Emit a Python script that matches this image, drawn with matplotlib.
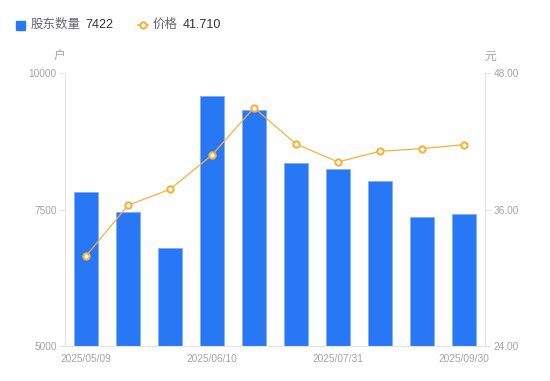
import matplotlib
matplotlib.use('Agg')
import matplotlib.pyplot as plt
from matplotlib.lines import Line2D

plt.rcParams['font.family'] = ['Liberation Sans', 'Noto Sans CJK SC', 'DejaVu Sans']

dates = ['2025/05/09', '2025/05/20', '2025/05/30', '2025/06/10', '2025/06/20',
         '2025/06/30', '2025/07/31', '2025/08/20', '2025/08/31', '2025/09/30']
holders = [7815, 7460, 6795, 9584, 9317, 8346, 8236, 8016, 7363, 7422]
price = [31.91, 36.37, 37.78, 40.79, 44.95, 41.76, 40.18, 41.12, 41.35, 41.71]
left_ticks = [5000, 7500, 10000]
right_ticks = [24.0, 36.0, 48.0]

blue = '#2878F5'
orange = '#F7B03C'
axis_grey = '#E3E3E8'
label_grey = '#A3A3AF'

fig = plt.figure(figsize=(5.5, 3.81), dpi=100)
ax = fig.add_axes([65/550, 35/381, 420/550, 273/381])
x = list(range(len(dates)))

ax.bar(x, [h - left_ticks[0] for h in holders], width=0.58, bottom=left_ticks[0],
       color=blue, edgecolor='#7FB0FA', linewidth=0.6, zorder=2)
ax.set_xlim(-0.5, len(dates) - 0.5)
ax.set_ylim(left_ticks[0], left_ticks[-1])
ax.set_yticks(left_ticks)
ax.set_yticklabels([str(t) for t in left_ticks])

ax2 = ax.twinx()
ax2.plot(x, price, color=orange, linewidth=0.9, marker='o', markersize=4.5,
         markerfacecolor='white', markeredgecolor=orange, markeredgewidth=1.5, zorder=3)
ax2.set_ylim(right_ticks[0], right_ticks[-1])
ax2.set_yticks(right_ticks)
ax2.set_yticklabels(['%.2f' % t for t in right_ticks])

ax.set_xticks([0, 3, 6, 9])
ax.set_xticklabels([dates[i] for i in [0, 3, 6, 9]])
ax.tick_params(axis='x', length=0, pad=6, labelsize=7.3, colors=label_grey)
ax.tick_params(axis='y', length=4, width=0.8, color=axis_grey, pad=2,
               labelsize=7.3, labelcolor=label_grey)
ax2.tick_params(axis='y', length=4, width=0.8, color=axis_grey, pad=2,
                labelsize=7.3, labelcolor=label_grey)

for a in (ax, ax2):
    for s in a.spines.values():
        s.set_visible(False)
ax.spines['left'].set_visible(True)
ax.spines['left'].set_color(axis_grey)
ax.spines['bottom'].set_visible(True)
ax.spines['bottom'].set_color(axis_grey)
ax2.spines['right'].set_visible(True)
ax2.spines['right'].set_color(axis_grey)

# unit labels
fig.text(59/550, 1 - 57/381, '户', ha='center', va='center', fontsize=8.5, color=label_grey)
fig.text(490/550, 1 - 57/381, '元', ha='center', va='center', fontsize=8.5, color=label_grey)

# legend row
ly = 1 - 25/381
fig.patches.append(plt.Rectangle((16/550, ly - 4.5/381), 9/550, 9/381, color=blue,
                                 transform=fig.transFigure, figure=fig))
fig.text(31/550, ly, '股东数量', ha='left', va='center', fontsize=9, color='#666670')
fig.text(85/550, ly, str(holders[-1]), ha='left', va='center', fontsize=9, color='#333333')
fig.lines.append(Line2D([138/550, 148/550], [ly, ly], color=orange, linewidth=1.2,
                        transform=fig.transFigure))
fig.lines.append(Line2D([143/550], [ly], color=orange, marker='o', markersize=4.5,
                        markerfacecolor='white', markeredgewidth=1.5, transform=fig.transFigure))
fig.text(153/550, ly, '价格', ha='left', va='center', fontsize=9, color='#666670')
fig.text(183/550, ly, '%.3f' % price[-1], ha='left', va='center', fontsize=9, color='#333333')

fig.savefig('out.png', dpi=100)
